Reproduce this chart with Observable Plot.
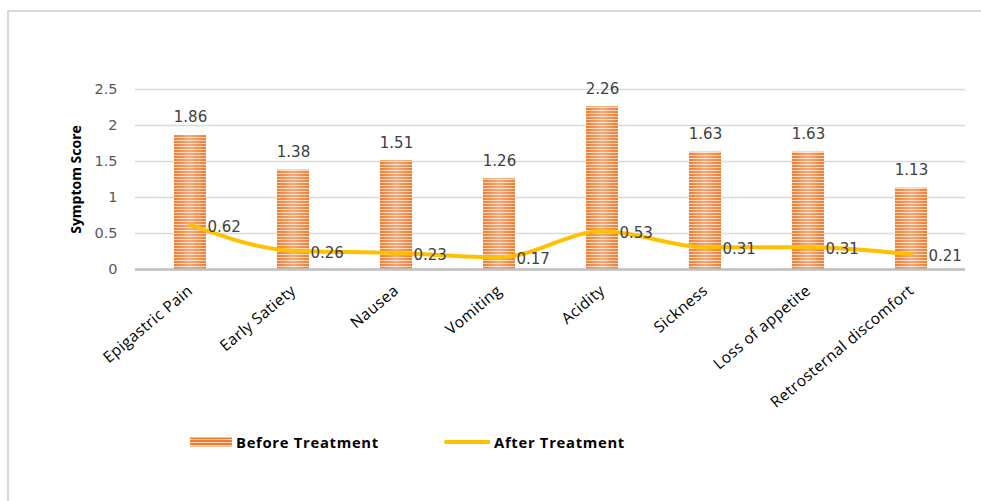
<!DOCTYPE html>
<html>
<head>
<meta charset="utf-8">
<script src="https://cdn.jsdelivr.net/npm/d3@7"></script>
<script src="https://cdn.jsdelivr.net/npm/@observablehq/plot@0.6"></script>
<style>
  html, body { margin: 0; padding: 0; background: #fff; overflow: hidden; }
  body { width: 981px; height: 501px; position: relative; }
  #frame { position: absolute; left: 7px; top: 10px; width: 1200px; height: 800px;
           border-left: 2px solid #d9d9d9; border-top: 2px solid #d9d9d9; }
  #chart { position: absolute; left: 0; top: 0; }
  #chart svg { font-family: "DejaVu Sans", sans-serif; overflow: visible; }
  g[aria-label="y-axis tick label"] text { font-size: 14.5px; font-family: "DejaVu Sans", sans-serif; fill: #595959; }
  g[aria-label="x-axis tick label"] text { font-size: 15.5px; letter-spacing: 0.4px; font-family: "Open Sans", sans-serif; fill: #000; }
  g[aria-label="y-axis label"] text { font-weight: bold; fill: #000; font-size: 14px; font-family: "Open Sans", sans-serif; }
  #legend { position: absolute; top: 432px; left: 0; width: 981px; height: 20px;
            font-family: "Open Sans", sans-serif; font-weight: bold; font-size: 14.8px; letter-spacing: 0.7px; color: #000; }
  .item { position: absolute; top: 0; display: flex; align-items: center; height: 20px; }
  .item svg { margin-right: 4px; }
</style>
</head>
<body>
<div id="frame"></div>
<div id="chart"></div>
<div id="legend">
  <div class="item" style="left:190px">
    <svg width="42" height="10"><defs>
      <pattern id="lgStripes" width="4" height="3" patternUnits="userSpaceOnUse">
        <rect width="4" height="3" fill="#ED7D31"/><rect y="2" width="4" height="1" fill="#F9D3B8"/>
      </pattern></defs>
      <rect width="42" height="9" y="0.5" fill="url(#lgStripes)"/></svg>
    <span>Before Treatment</span>
  </div>
  <div class="item" style="left:444px">
    <svg width="46" height="10"><line x1="2" x2="45" y1="5" y2="5" stroke="#FFC000" stroke-width="4" stroke-linecap="round"/></svg>
    <span>After Treatment</span>
  </div>
</div>
<script>
// Symptom scores before and after treatment
const symptoms = ["Epigastric Pain", "Early Satiety", "Nausea", "Vomiting", "Acidity",
                  "Sickness", "Loss of appetite", "Retrosternal discomfort"];
const beforeTreatment = [1.86, 1.38, 1.51, 1.26, 2.26, 1.63, 1.63, 1.13];
const afterTreatment  = [0.62, 0.26, 0.23, 0.17, 0.53, 0.31, 0.31, 0.21];
const yTicks = [0, 0.5, 1, 1.5, 2, 2.5];

const rows = symptoms.map((s, i) => ({symptom: s, before: beforeTreatment[i], after: afterTreatment[i]}));

// striped fill used by the bars, plus a soft highlight down the middle
const defs = () => {
  const g = d3.create("svg:defs");
  const p = g.append("pattern").attr("id", "barStripes")
    .attr("width", 4).attr("height", 3).attr("patternUnits", "userSpaceOnUse");
  p.append("rect").attr("width", 4).attr("height", 3).attr("fill", "#ED7D31");
  p.append("rect").attr("y", 2).attr("width", 4).attr("height", 1).attr("fill", "#F9D3B8");
  const lg = g.append("linearGradient").attr("id", "barGloss").attr("x1", 0).attr("x2", 1).attr("y1", 0).attr("y2", 0);
  lg.append("stop").attr("offset", "0%").attr("stop-color", "#fff").attr("stop-opacity", 0);
  lg.append("stop").attr("offset", "50%").attr("stop-color", "#fff").attr("stop-opacity", 0.35);
  lg.append("stop").attr("offset", "100%").attr("stop-color", "#fff").attr("stop-opacity", 0);
  return g.node();
};

const chart = Plot.plot({
  width: 981,
  height: 420,
  marginLeft: 135,
  marginRight: 16,
  marginTop: 89,
  marginBottom: 151,
  x: {domain: symptoms, paddingInner: 0.69, paddingOuter: 0.345, label: null},
  y: {domain: [0, 2.5], label: null},
  marks: [
    defs,
    Plot.gridY(yTicks, {stroke: "#d9d9d9", strokeOpacity: 1, strokeWidth: 1.5}),
    Plot.axisY(yTicks, {tickSize: 0, tickPadding: 18,
      tickFormat: d => String(d), label: "Symptom Score", labelAnchor: "center",
      labelArrow: "none", labelOffset: 64}),
    Plot.axisX({tickSize: 0, tickRotate: -40, tickPadding: 19}),
    Plot.barY(rows, {x: "symptom", y: "before", fill: "url(#barStripes)"}),
    Plot.barY(rows, {x: "symptom", y: "before", fill: "url(#barGloss)"}),
    Plot.ruleY([0], {stroke: "#bfbfbf", strokeWidth: 2.5}),
    Plot.text(rows, {x: "symptom", y: "before", text: d => d.before.toFixed(2), dy: -18,
      fontSize: 15, fill: "#404040"}),
    Plot.lineY(rows, {x: "symptom", y: "after", stroke: "#FFC000", strokeWidth: 4,
      curve: "monotone-x"}),
    Plot.text(rows, {x: "symptom", y: "after", text: d => d.after.toFixed(2), dx: 17, dy: 2,
      textAnchor: "start", fontSize: 15, fill: "#404040"})
  ]
});
document.getElementById("chart").appendChild(chart);
</script>
</body>
</html>
